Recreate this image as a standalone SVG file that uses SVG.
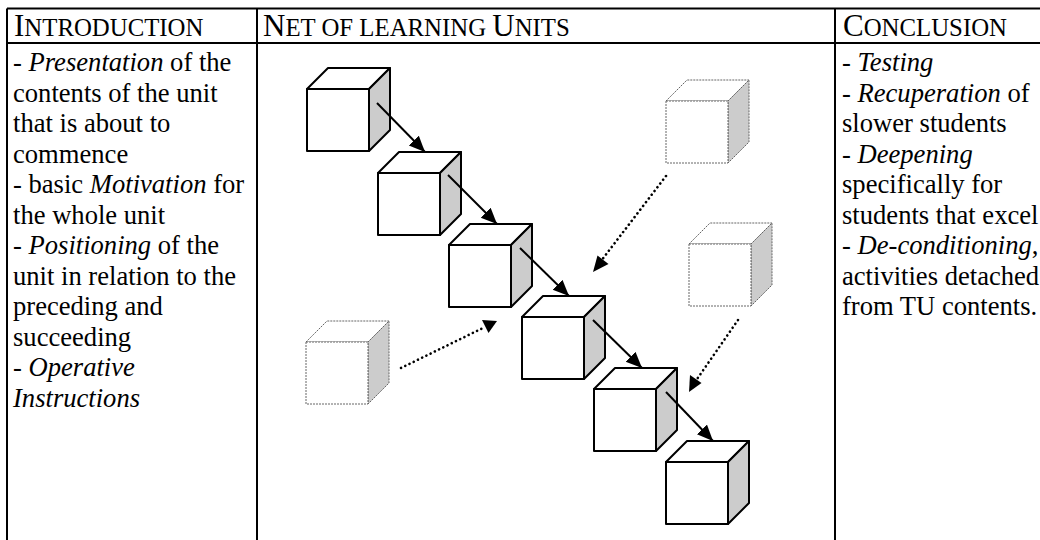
<svg xmlns="http://www.w3.org/2000/svg" width="1040" height="540" viewBox="0 0 1040 540">
<style>
.t{font-family:"Liberation Serif","Times New Roman",serif;font-size:26.6px;fill:#000}
.h{font-family:"Liberation Serif","Times New Roman",serif;font-size:31px;fill:#000}
.i{font-style:italic}
.sc{font-size:24.8px}
.grid{stroke:#000;stroke-width:2;fill:none}
.cf{fill:#fff;stroke:#000;stroke-width:2;stroke-linejoin:round}
.cs{fill:#cccccc;stroke:#000;stroke-width:2;stroke-linejoin:round}
.df{fill:#fff;stroke:#666;stroke-width:1;stroke-dasharray:2 1}
.ds{fill:#cccccc;stroke:#666;stroke-width:1;stroke-dasharray:2 1}
.solid{stroke:#000;stroke-width:2;fill:none}
.dot{stroke:#000;stroke-width:2.6;fill:none;stroke-linecap:round;stroke-dasharray:0.1 4.6}
</style>
<defs>
<marker id="ah" markerUnits="userSpaceOnUse" markerWidth="18" markerHeight="16" refX="16" refY="7" orient="auto" viewBox="0 0 18 16">
<path d="M0,0 L16,7 L0,14 z" fill="#000"/>
</marker>
<g id="cube">
<path class="cf" d="M0,0 L21,-21 L83,-21 L62,0 z"/>
<path class="cs" d="M62,0 L83,-21 L83,41 L62,62 z"/>
<rect class="cf" x="0" y="0" width="62" height="62"/>
</g>
<g id="dcube">
<path class="df" d="M0,0 L21,-21 L83,-21 L62,0 z"/>
<path class="ds" d="M62,0 L83,-21 L83,41 L62,62 z"/>
<rect class="df" x="0" y="0" width="62" height="62"/>
</g>
</defs>
<rect width="1040" height="540" fill="#fff"/>
<g id="table">
<path class="grid" d="M7,8.5 H1040 M7,43 H1040 M7,8.5 V540 M257,8.5 V540 M835,8.5 V540"/>
</g>
<g id="headers" class="h">
<text x="14" y="36">I<tspan class="sc">NTRODUCTION</tspan></text>
<text x="263" y="36">N<tspan class="sc">ET OF LEARNING </tspan>U<tspan class="sc">NITS</tspan></text>
<text x="843" y="36">C<tspan class="sc">ONCLUSION</tspan></text>
</g>
<g id="introduction" class="t">
<text x="13" y="71">- <tspan class="i">Presentation</tspan> of the</text>
<text x="13" y="101.5">contents of the unit</text>
<text x="13" y="132">that is about to</text>
<text x="13" y="162.5">commence</text>
<text x="13" y="193">- basic <tspan class="i">Motivation</tspan> for</text>
<text x="13" y="223.5">the whole unit</text>
<text x="13" y="254">- <tspan class="i">Positioning</tspan> of the</text>
<text x="13" y="284.5">unit in relation to the</text>
<text x="13" y="315">preceding and</text>
<text x="13" y="345.5">succeeding</text>
<text x="13" y="376">- <tspan class="i">Operative</tspan></text>
<text x="13" y="406.5" class="i">Instructions</text>
</g>
<g id="conclusion" class="t">
<text x="842" y="71">- <tspan class="i">Testing</tspan></text>
<text x="842" y="101.5">- <tspan class="i">Recuperation</tspan> of</text>
<text x="842" y="132">slower students</text>
<text x="842" y="162.5">- <tspan class="i">Deepening</tspan></text>
<text x="842" y="193">specifically for</text>
<text x="842" y="223.5">students that excel</text>
<text x="842" y="254">- <tspan class="i">De-conditioning</tspan>,</text>
<text x="842" y="284.5">activities detached</text>
<text x="842" y="315">from TU contents.</text>
</g>
<g id="unit1"><use href="#cube" x="307" y="89"/></g>
<g id="unit2"><use href="#cube" x="378" y="173"/></g>
<g id="unit3"><use href="#cube" x="449" y="245"/></g>
<g id="unit4"><use href="#cube" x="522" y="317"/></g>
<g id="unit5"><use href="#cube" x="594" y="389"/></g>
<g id="unit6"><use href="#cube" x="666" y="462"/></g>
<g id="option1"><use href="#dcube" x="666" y="101"/></g>
<g id="option2"><use href="#dcube" x="689" y="244"/></g>
<g id="option3"><use href="#dcube" x="306" y="342"/></g>
<g id="connectors">
<line class="solid" x1="377" y1="103" x2="425" y2="152" marker-end="url(#ah)"/>
<line class="solid" x1="448" y1="175" x2="497" y2="224" marker-end="url(#ah)"/>
<line class="solid" x1="520" y1="248" x2="569" y2="296" marker-end="url(#ah)"/>
<line class="solid" x1="593" y1="320" x2="642" y2="368" marker-end="url(#ah)"/>
<line class="solid" x1="666" y1="392" x2="713" y2="441" marker-end="url(#ah)"/>
<line class="dot" x1="666" y1="176" x2="601" y2="261"/>
<path d="M593,272 L597.5,255.5 L608.5,264 z" fill="#000"/>
<line class="dot" x1="738" y1="320" x2="695" y2="382"/>
<path d="M689,392 L690,375 L701.5,383 z" fill="#000"/>
<line class="dot" x1="401" y1="368" x2="485" y2="327"/>
<path d="M497,321 L482,320 L488.5,333 z" fill="#000"/>
</g>
</svg>
